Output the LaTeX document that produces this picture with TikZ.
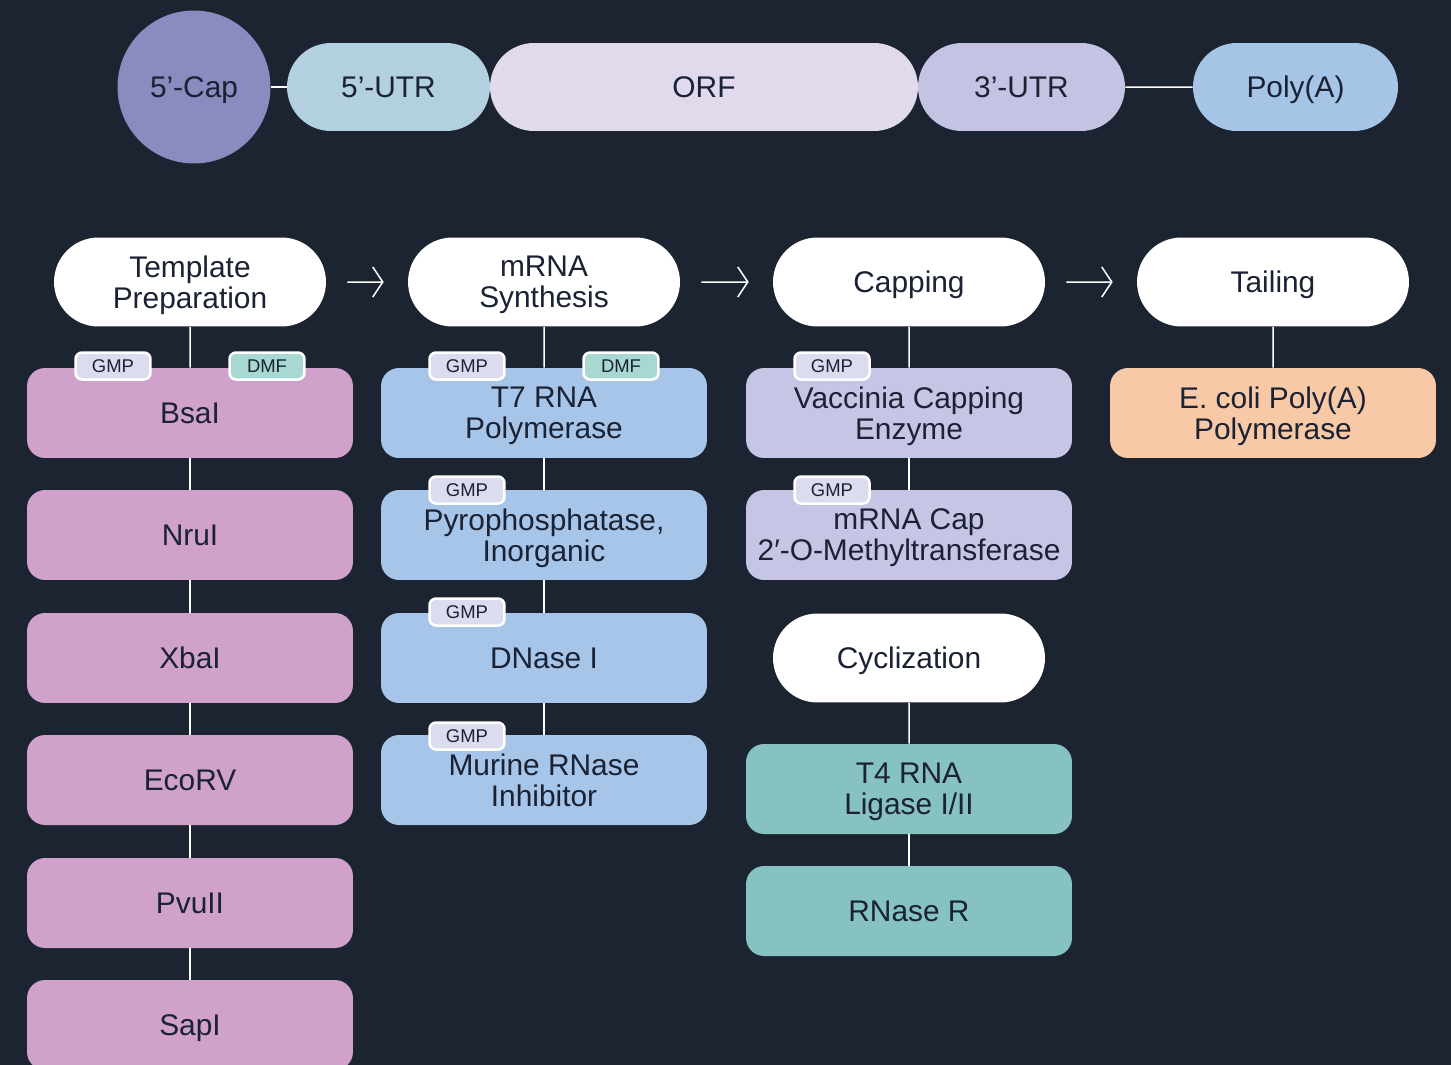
\documentclass[tikz,border=0pt]{standalone}
\usepackage{fontspec}
\setmainfont{Liberation Sans}
\usetikzlibrary{shapes.misc, arrows.meta}

\definecolor{bgnavy}{HTML}{1C2431}
\definecolor{ink}{HTML}{1A2233}
\definecolor{capcol}{HTML}{8A8BBE}
\definecolor{utrfive}{HTML}{B2D0DF}
\definecolor{orfcol}{HTML}{E0DAEC}
\definecolor{utrthree}{HTML}{C4C3E3}
\definecolor{polyacol}{HTML}{A6C4E6}
\definecolor{restr}{HTML}{CFA1CB}
\definecolor{synth}{HTML}{A7C5E8}
\definecolor{capz}{HTML}{C7C5E5}
\definecolor{cycz}{HTML}{86C2C0}
\definecolor{tailz}{HTML}{F8C9A6}
\definecolor{gmpcol}{HTML}{DCDCEF}
\definecolor{dmfcol}{HTML}{A8D8D2}

\begin{document}
\begin{tikzpicture}[x=0.02cm, y=-0.02cm,
    every node/.style={text=ink, font=\fontsize{17}{17.6}\selectfont, align=center, inner sep=0pt, text depth=0pt},
    seg/.style 2 args={rounded rectangle, fill=#1, minimum width=#2, minimum height=1.76cm},
    stage/.style={rounded rectangle, fill=white, minimum width=5.44cm, minimum height=1.78cm},
    enzyme/.style={rectangle, rounded corners=0.36cm, fill=#1, minimum width=6.52cm, minimum height=1.8cm},
    tag/.style={rectangle, rounded corners=0.13cm, fill=#1, draw=white, line width=0.05cm,
      minimum width=1.5cm, minimum height=0.54cm, font=\fontsize{10.5}{12}\selectfont},
    link/.style={draw=white, line width=0.03cm},
    flow/.style={draw=white, line width=0.03cm, -{Straight Barb[length=0.2cm, width=0.6cm]},
      shorten <=0.42cm, shorten >=0.48cm}]
        \fill[bgnavy] (0,0) rectangle (1451,1065);
        \useasboundingbox (0,0) rectangle (1451,1065);

        % mRNA construct
        \node[circle, fill=capcol, minimum size=3.06cm] (cap) at (194,87) {5’-Cap};
        \node[seg={utrfive}{4.06cm}] (utr5) at (388.5,87) {5’-UTR};
        \node[seg={orfcol}{8.56cm}] (orf) at (704,87) {ORF};
        \node[seg={utrthree}{4.14cm}] (utr3) at (1021.5,87) {3’-UTR};
        \node[seg={polyacol}{4.1cm}] (polya) at (1295.5,87) {Poly(A)};

        \path (cap) edge[link] (utr5);
        \path (utr3) edge[link] (polya);

        % process stages
        \node[stage] (tprep) at (190,282) {Template\\Preparation};
        \node[stage] (synth) at (544,282) {mRNA\\Synthesis};
        \node[stage] (capping) at (909,282) {Capping};
        \node[stage] (tailing) at (1273,282) {Tailing};
        \node[stage] (cycl) at (909,658) {Cyclization};

        \path (tprep) edge[flow] (synth);
        \path (synth) edge[flow] (capping);
        \path (capping) edge[flow] (tailing);

        % template preparation
        \node[enzyme=restr] (bsai) at (190,413) {BsaI};
        \node[enzyme=restr] (nrui) at (190,535) {NruI};
        \node[enzyme=restr] (xbai) at (190,658) {XbaI};
        \node[enzyme=restr] (ecorv) at (190,780) {EcoRV};
        \node[enzyme=restr] (pvuii) at (190,903) {PvuII};
        \node[enzyme=restr] (sapi) at (190,1025) {SapI};

        % synthesis
        \node[enzyme=synth] (t7) at (544,413) {T7 RNA\\Polymerase};
        \node[enzyme=synth] (ppase) at (544,535) {Pyrophosphatase,\\Inorganic};
        \node[enzyme=synth] (dnase) at (544,658) {DNase I};
        \node[enzyme=synth] (rnasin) at (544,780) {Murine RNase\\Inhibitor};

        % capping
        \node[enzyme=capz] (vce) at (909,413) {Vaccinia Capping\\Enzyme};
        \node[enzyme=capz] (mtase) at (909,535) {mRNA Cap\\2′-O-Methyltransferase};

        % cyclization
        \node[enzyme=cycz] (t4lig) at (909,789) {T4 RNA\\Ligase I/II};
        \node[enzyme=cycz] (rnaser) at (909,911) {RNase R};

        % tailing
        \node[enzyme=tailz] (epap) at (1273,413) {E. coli Poly(A)\\Polymerase};

        \path (tprep) edge[link] (bsai);
        \path (bsai) edge[link] (nrui);
        \path (nrui) edge[link] (xbai);
        \path (xbai) edge[link] (ecorv);
        \path (ecorv) edge[link] (pvuii);
        \path (pvuii) edge[link] (sapi);
        \path (synth) edge[link] (t7);
        \path (t7) edge[link] (ppase);
        \path (ppase) edge[link] (dnase);
        \path (dnase) edge[link] (rnasin);
        \path (capping) edge[link] (vce);
        \path (vce) edge[link] (mtase);
        \path (cycl) edge[link] (t4lig);
        \path (t4lig) edge[link] (rnaser);
        \path (tailing) edge[link] (epap);

        % reagent tags
        \node[tag=gmpcol] (gmpa) at (113,366) {GMP};
        \node[tag=dmfcol] (dmfa) at (267,366) {DMF};
        \node[tag=gmpcol] (gmpb) at (467,366) {GMP};
        \node[tag=dmfcol] (dmfb) at (621,366) {DMF};
        \node[tag=gmpcol] (gmpc) at (467,490) {GMP};
        \node[tag=gmpcol] (gmpd) at (467,612) {GMP};
        \node[tag=gmpcol] (gmpe) at (467,736) {GMP};
        \node[tag=gmpcol] (gmpf) at (832,366) {GMP};
        \node[tag=gmpcol] (gmpg) at (832,490) {GMP};
      \end{tikzpicture}
\end{document}
